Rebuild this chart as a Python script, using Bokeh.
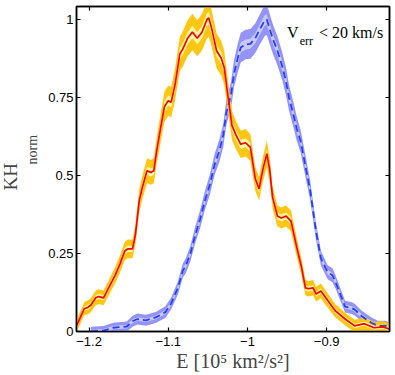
from bokeh.plotting import figure
from bokeh.models import (ColumnDataSource, Range1d, LinearAxis, FixedTicker, Label,
                          CustomJSTickFormatter, Title)
from bokeh.embed import file_html
from bokeh.resources import INLINE

# ---------------- data ----------------
E_red = [-1.2159, -1.2110, -1.2061, -1.2012, -1.1976, -1.1915, -1.1878, -1.1817, -1.1732, -1.1671,
         -1.1610, -1.1549, -1.1512, -1.1451, -1.1415, -1.1366, -1.1329, -1.1268, -1.1220, -1.1183,
         -1.1146, -1.1098, -1.1049, -1.1000, -1.0963, -1.0915, -1.0854, -1.0817, -1.0756, -1.0695,
         -1.0634, -1.0573, -1.0512, -1.0488, -1.0451, -1.0390, -1.0329, -1.0293, -1.0244, -1.0195,
         -1.0146, -1.0085, -1.0024, -0.9963, -0.9902, -0.9854, -0.9805, -0.9756, -0.9720, -0.9683,
         -0.9622, -0.9573, -0.9512, -0.9451, -0.9378, -0.9317, -0.9268, -0.9232, -0.9171, -0.9134,
         -0.9073, -0.9012, -0.8890, -0.8768, -0.8646, -0.8524, -0.8402, -0.8293, -0.8207]
KH_red = [0.018, 0.045, 0.073, 0.078, 0.085, 0.108, 0.112, 0.108, 0.15, 0.18,
          0.216, 0.258, 0.265, 0.265, 0.31, 0.42, 0.46, 0.515, 0.51, 0.515,
          0.58, 0.65, 0.72, 0.74, 0.735, 0.79, 0.89, 0.905, 0.94, 0.96,
          0.94, 0.96, 1.0, 1.005, 0.97, 0.9, 0.875, 0.845, 0.75, 0.66,
          0.63, 0.6, 0.605, 0.59, 0.49, 0.457, 0.52, 0.57, 0.52, 0.43,
          0.37, 0.364, 0.37, 0.354, 0.27, 0.205, 0.14, 0.137, 0.14, 0.12,
          0.13, 0.108, 0.066, 0.04, 0.018, 0.025, 0.012, 0.015, 0.008]
ERR_red = [0.016, 0.016, 0.017, 0.018, 0.018, 0.019, 0.019, 0.019, 0.02, 0.021,
           0.022, 0.024, 0.024, 0.024, 0.025, 0.029, 0.03, 0.032, 0.032, 0.032,
           0.034, 0.036, 0.039, 0.039, 0.039, 0.041, 0.044, 0.045, 0.046, 0.047,
           0.046, 0.047, 0.048, 0.048, 0.047, 0.045, 0.044, 0.043, 0.04, 0.037,
           0.036, 0.035, 0.035, 0.034, 0.031, 0.03, 0.032, 0.034, 0.032, 0.029,
           0.027, 0.027, 0.027, 0.027, 0.024, 0.022, 0.02, 0.02, 0.02, 0.019,
           0.019, 0.019, 0.017, 0.016, 0.016, 0.016, 0.015, 0.015, 0.015]

E_blue = [-1.1976, -1.1817, -1.1695, -1.1524, -1.1451, -1.1390, -1.1280, -1.1159, -1.1037, -1.0963,
          -1.0878, -1.0817, -1.0780, -1.0720, -1.0659, -1.0598, -1.0537, -1.0476, -1.0415, -1.0354,
          -1.0305, -1.0268, -1.0207, -1.0171, -1.0122, -1.0085, -1.0024, -0.9963, -0.9902, -0.9841,
          -0.9780, -0.9756, -0.9720, -0.9683, -0.9622, -0.9561, -0.9512, -0.9476, -0.9415, -0.9378,
          -0.9329, -0.9268, -0.9207, -0.9171, -0.9134, -0.9073, -0.8988, -0.8927, -0.8890, -0.8829,
          -0.8768, -0.8683, -0.8646, -0.8561, -0.8439, -0.8354, -0.8256, -0.8207]
KH_blue = [0.0, 0.003, 0.012, 0.016, 0.033, 0.04, 0.036, 0.045, 0.062, 0.09,
           0.14, 0.195, 0.21, 0.25, 0.31, 0.36, 0.42, 0.47, 0.535, 0.58,
           0.63, 0.7, 0.76, 0.825, 0.877, 0.91, 0.92, 0.922, 0.94, 0.97,
           0.998, 1.0, 0.97, 0.94, 0.9, 0.85, 0.8, 0.75, 0.69, 0.65,
           0.61, 0.53, 0.45, 0.385, 0.32, 0.235, 0.19, 0.18, 0.16, 0.12,
           0.08, 0.075, 0.07, 0.05, 0.028, 0.018, 0.018, 0.012]
ERR_blue = [0.012, 0.012, 0.013, 0.013, 0.014, 0.014, 0.014, 0.014, 0.015, 0.015,
            0.017, 0.018, 0.019, 0.02, 0.021, 0.023, 0.024, 0.026, 0.027, 0.029,
            0.03, 0.032, 0.034, 0.035, 0.037, 0.038, 0.038, 0.038, 0.038, 0.039,
            0.04, 0.04, 0.039, 0.038, 0.037, 0.036, 0.035, 0.033, 0.032, 0.031,
            0.029, 0.027, 0.025, 0.023, 0.022, 0.019, 0.018, 0.018, 0.017, 0.016,
            0.015, 0.015, 0.015, 0.014, 0.014, 0.013, 0.013, 0.013]

X_TICKS = [-1.2, -1.1, -1.0, -0.9]
X_TICK_LABELS = ["\u22121.2", "\u22121.1", "\u22121", "\u22120.9"]
Y_TICKS = [0, 0.25, 0.5, 0.75, 1]
Y_TICK_LABELS = ["0", "0.25", "0.5", "0.75", "1"]
X_LABEL = "E [10\u2075 km\u00b2/s\u00b2]"
Y_LABEL_MAIN, Y_LABEL_SUB = "KH", "norm"
NOTE_MAIN, NOTE_SUB, NOTE_REST = "V", "err", "< 20 km/s"

X_RANGE = (-1.21585, -0.8207)
Y_RANGE = (0.0, 1.0417)
OUTER_K = 1.25
INNER_FRAC = 0.42

# ---------------- layout (page has no body margin) ----------------
ML, MR, MT, MB = 65, 5, 6, 43
FW, FH = 324, 325
W, H = ML + FW + MR, MT + FH + MB
FL, FT = ML, MT


def xd(px):
    return X_RANGE[0] + (px - FL) / FW * (X_RANGE[1] - X_RANGE[0])


def yd(py):
    return Y_RANGE[1] - (py - FT) / FH * (Y_RANGE[1] - Y_RANGE[0])


def band_source(E, KH, ERR):
    return ColumnDataSource(dict(
        E=E, KH=KH,
        lo=[v - OUTER_K * e for v, e in zip(KH, ERR)],
        hi=[v + OUTER_K * e for v, e in zip(KH, ERR)],
        lo_in=[v - INNER_FRAC * e for v, e in zip(KH, ERR)],
        hi_in=[v + INNER_FRAC * e for v, e in zip(KH, ERR)],
    ))


red = band_source(E_red, KH_red, ERR_red)
blue = band_source(E_blue, KH_blue, ERR_blue)

p = figure(width=W, height=H, x_range=Range1d(*X_RANGE), y_range=Range1d(*Y_RANGE),
           min_border_left=ML, min_border_right=MR, min_border_top=MT, min_border_bottom=MB,
           output_backend="svg", toolbar_location=None)
p.xgrid.visible = False
p.ygrid.visible = False
p.outline_line_color = "black"
p.outline_line_width = 1.5
p.background_fill_color = "white"
p.border_fill_color = "white"

# bands
p.varea(x="E", y1="lo", y2="hi", source=blue, fill_color="#9494F8")
p.varea(x="E", y1="lo_in", y2="hi_in", source=blue, fill_color="#C8C8FC")
p.varea(x="E", y1="lo", y2="hi", source=red, fill_color="#FFC713")
p.varea(x="E", y1="lo_in", y2="hi_in", source=red, fill_color="#F8F8A6")
# lines
p.line(x="E", y="KH", source=blue, line_color="#2040FF", line_width=1.8, line_dash="7 4")
p.line(x="E", y="KH", source=red, line_color="#FF0000", line_width=1.7)


def fmt(tick_values, tick_labels):
    return CustomJSTickFormatter(args=dict(tv=tick_values, tl=tick_labels), code="""
        let best = 0, d = Infinity;
        for (let i = 0; i < tv.length; i++) {
            const dd = Math.abs(tv[i] - tick);
            if (dd < d) { d = dd; best = i; }
        }
        return tl[best];
    """)


def style_axis(ax, tick_values):
    ax.ticker = FixedTicker(ticks=tick_values)
    ax.axis_line_color = "black"
    ax.axis_line_width = 1.5
    ax.major_tick_in = 4
    ax.major_tick_out = 0
    ax.major_tick_line_color = "black"
    ax.major_tick_line_width = 1.2
    ax.minor_tick_line_color = None
    ax.major_label_text_font = "Liberation Sans"
    ax.major_label_text_font_size = "13px"
    ax.major_label_text_color = "black"


SERIF = "Liberation Serif"

xa = p.xaxis[0]
style_axis(xa, X_TICKS)
xa.formatter = fmt(X_TICKS, X_TICK_LABELS)
xa.major_label_standoff = 5
xa.axis_label = X_LABEL
xa.axis_label_text_font = SERIF
xa.axis_label_text_font_size = "20px"
xa.axis_label_text_font_style = "normal"
xa.axis_label_standoff = 1

ya = p.yaxis[0]
style_axis(ya, Y_TICKS)
ya.formatter = fmt(Y_TICKS, Y_TICK_LABELS)
ya.major_label_standoff = 3

blank = CustomJSTickFormatter(code="return ''")
top = LinearAxis()
style_axis(top, X_TICKS)
top.formatter = blank
top.major_label_standoff = 0
right = LinearAxis()
style_axis(right, Y_TICKS)
right.formatter = blank
right.major_label_standoff = 0
p.add_layout(top, "above")
p.add_layout(right, "right")

# y axis label  KH_norm as two side titles (subscript nearest the axis)
p.add_layout(Title(text=Y_LABEL_SUB, text_font=SERIF, text_font_size="14px",
                   text_font_style="normal", align="left", offset=167, standoff=11), "left")
p.add_layout(Title(text=Y_LABEL_MAIN, text_font=SERIF, text_font_size="19px",
                   text_font_style="normal", align="left", offset=141, standoff=-6), "left")


def lab(px, py, text, size):
    p.add_layout(Label(x=xd(px), y=yd(py), text=text, text_font=SERIF,
                       text_font_size=f"{size}px", text_baseline="alphabetic",
                       text_align="left", text_color="black"))


lab(283, 32, NOTE_MAIN, 16)
lab(296, 40, NOTE_SUB, 12)
lab(316, 32, NOTE_REST, 16)

open("out.html", "w").write(file_html(p, INLINE))
